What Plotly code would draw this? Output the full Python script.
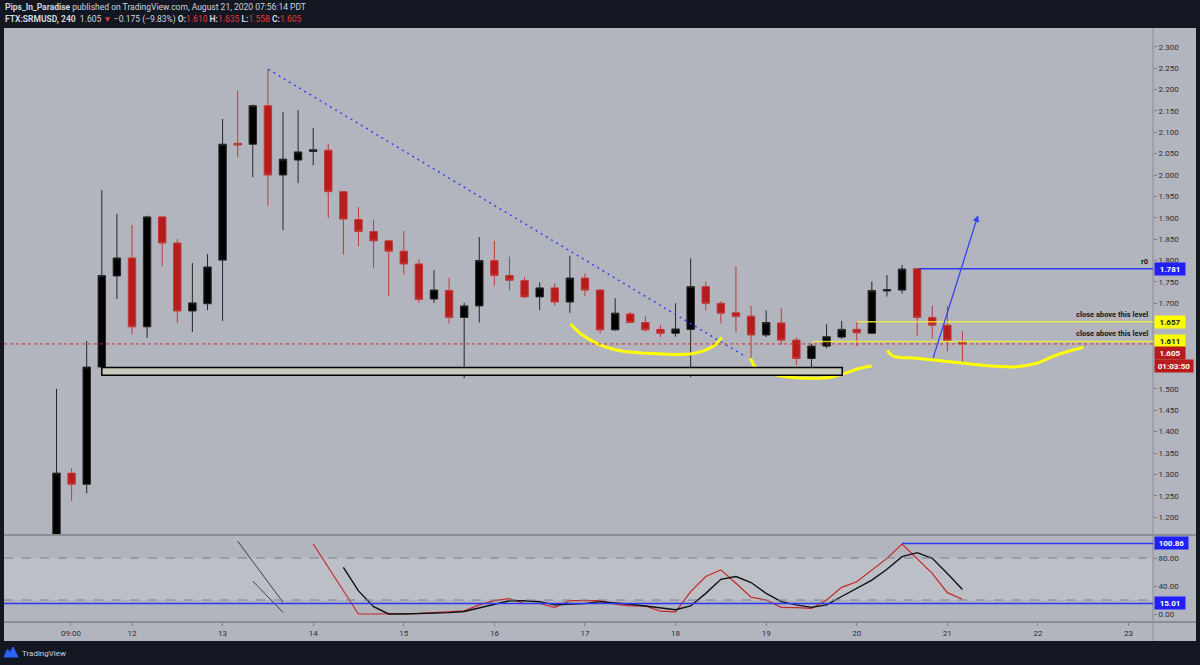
import plotly.graph_objects as go

# ---------------- data ----------------
candle_idx = list(range(61))
opens = [1.100, 1.303, 1.277, 1.551, 1.764, 1.806, 1.645, 1.902, 1.841, 1.682,
         1.699, 1.801, 2.074, 2.072, 2.162, 2.000, 2.035, 2.055, 2.058, 1.961,
         1.896, 1.868, 1.846, 1.822, 1.792, 1.710, 1.730, 1.667, 1.694, 1.800,
         1.765, 1.753, 1.715, 1.736, 1.703, 1.759, 1.731, 1.638, 1.675, 1.655,
         1.639, 1.630, 1.639, 1.739, 1.700, 1.678, 1.670, 1.626, 1.654, 1.614,
         1.571, 1.600, 1.621, 1.639, 1.630, 1.729, 1.731, 1.781, 1.667, 1.649,
         1.610]
highs = [1.500, 1.315, 1.612, 1.965, 1.909, 1.883, 1.905, 1.904, 1.850, 1.794,
         1.815, 2.131, 2.198, 2.165, 2.248, 2.147, 2.152, 2.110, 2.073, 1.962,
         1.925, 1.895, 1.848, 1.869, 1.803, 1.778, 1.760, 1.701, 1.855, 1.846,
         1.809, 1.761, 1.749, 1.747, 1.811, 1.770, 1.733, 1.712, 1.680, 1.670,
         1.649, 1.700, 1.805, 1.751, 1.705, 1.787, 1.694, 1.683, 1.688, 1.621,
         1.605, 1.651, 1.659, 1.657, 1.751, 1.766, 1.790, 1.782, 1.694, 1.694,
         1.635]
lows = [1.060, 1.238, 1.256, 1.548, 1.710, 1.628, 1.619, 1.787, 1.654, 1.633,
        1.684, 1.659, 2.042, 1.995, 1.928, 1.871, 1.981, 2.023, 1.900, 1.814,
        1.834, 1.783, 1.716, 1.767, 1.701, 1.701, 1.653, 1.525, 1.655, 1.741,
        1.730, 1.712, 1.684, 1.694, 1.678, 1.717, 1.630, 1.636, 1.654, 1.634,
        1.621, 1.622, 1.527, 1.683, 1.653, 1.631, 1.571, 1.621, 1.603, 1.556,
        1.546, 1.595, 1.617, 1.600, 1.628, 1.716, 1.723, 1.624, 1.618, 1.587,
        1.558]
closes = [1.303, 1.277, 1.551, 1.765, 1.806, 1.645, 1.902, 1.841, 1.682, 1.701,
          1.785, 2.072, 2.070, 2.162, 2.000, 2.037, 2.054, 2.059, 1.961, 1.897,
          1.868, 1.846, 1.822, 1.792, 1.709, 1.731, 1.667, 1.694, 1.800, 1.765,
          1.754, 1.715, 1.736, 1.703, 1.759, 1.731, 1.638, 1.677, 1.655, 1.638,
          1.630, 1.640, 1.739, 1.700, 1.677, 1.669, 1.626, 1.655, 1.614, 1.571,
          1.600, 1.622, 1.639, 1.631, 1.730, 1.732, 1.780, 1.667, 1.649, 1.613,
          1.605]

stoch_k_idx = list(range(17, 61))
stoch_k = [100, 67, 33, 0, 0, 0, 0.5, 1, 2, 3, 4.5, 13, 19, 22, 15, 15, 9.5, 19,
           19, 19, 14, 11.5, 11.5, 4, 3, 32, 53.5, 63, 44, 24, 20, 9.5, 9, 8, 20,
           38, 46, 63, 79.5, 100, 79.5, 58, 30.5, 21]
stoch_d_idx = list(range(19, 61))
stoch_d = [66.7, 33, 10.5, 0, 0, 0.5, 1, 2, 3.5, 8.5, 13, 19, 19, 17.6, 13, 14,
           15, 17.6, 16, 14, 11.5, 8.5, 6, 11.5, 29.5, 49.5, 53.5, 45, 29.5, 17.6,
           13, 9.5, 13, 25, 36.7, 48.5, 64, 82, 87.6, 79.5, 58, 35]

time_tick_pos = [0.96, 5, 11, 17, 23, 29, 35, 41, 47, 53, 59, 65, 71]
time_tick_text = ["09:00", "12", "13", "14", "15", "16", "17", "18", "19", "20",
                  "21", "22", "23"]
price_ticks = [1.20, 1.25, 1.30, 1.35, 1.40, 1.45, 1.50, 1.55, 1.60, 1.65, 1.70,
               1.75, 1.80, 1.85, 1.90, 1.95, 2.00, 2.05, 2.10, 2.15, 2.20, 2.25, 2.30]
# tick labels hidden behind the price-label boxes in the reference
hidden_price_ticks = [1.55, 1.60, 1.65]
osc_ticks = [0, 40, 80]

# key levels
level_r0 = 1.781
level_close1 = 1.657
level_close2 = 1.611
last_price = 1.605
osc_upper = 100.86
osc_lower = 15.01

# user drawings (data coordinates: candle index, price)
trend_x = [14.03, 45.7]
trend_y = [2.247, 1.574]
curve_a_x = [34.05, 34.67, 35.77, 36.87, 37.98, 40.19, 41.95, 42.83, 43.61, 44.05]
curve_a_y = [1.652, 1.630, 1.6065, 1.5925, 1.586, 1.5815, 1.5815, 1.589, 1.6025, 1.6205]
curve_b_x = [45.97, 46.26, 47.03, 48.36, 50.12, 51.44, 52.33, 53.21, 53.99]
curve_b_y = [1.5714, 1.5518, 1.5378, 1.5284, 1.5247, 1.5284, 1.5378, 1.5481, 1.5534]
curve_c_x = [55.02, 55.42, 56.97, 59.17, 61.82, 63.59, 64.91, 66.24, 68.0]
curve_c_y = [1.5892, 1.5768, 1.5714, 1.5635, 1.5534, 1.5518, 1.5598, 1.5792, 1.5972]
zone_x = [3.0, 52.04]
zone_y = [1.532, 1.550]
arrow_from = (58.03, 1.569)
arrow_to = (61.03, 1.906)
osc_draw1_x = [12, 15]
osc_draw1_y = [104, 16.7]
osc_draw2_x = [13, 15]
osc_draw2_y = [47, 2.4]

# ---------------- layout geometry ----------------
W, H = 1200, 665
ML, MR, MT, MB = 4, 47, 28, 43
PW, PH = W - ML - MR, H - MT - MB
X_RANGE = [-3.477, 72.62]
Y_RANGE = [1.1583, 2.3437]
Y2_RANGE = [-11.43, 112.86]
SPLIT = (H - MB - 535) / PH


def pxx(px):
    return (px - ML) / PW


def pxy(py):
    return (H - MB - py) / PH


BG = "#b2b5be"
DARK = "#131722"
AX_TXT = "#2a2e39"
RED = "#b71c1c"
BLUE = "#2b3af2"
YEL = "#ffff00"
FONT = "Roboto"

fig = go.Figure()

fig.add_trace(go.Candlestick(
    x=candle_idx, open=opens, high=highs, low=lows, close=closes,
    increasing=dict(fillcolor="#000000", line=dict(color="#262626", width=1)),
    decreasing=dict(fillcolor=RED, line=dict(color="#c03a3a", width=1)),
    whiskerwidth=0, xaxis="x", yaxis="y", hoverinfo="skip", showlegend=False))

fig.add_trace(go.Scatter(x=trend_x, y=trend_y, mode="lines", xaxis="x", yaxis="y",
                         line=dict(color="#3343f5", width=1.5, dash="2px,4px"),
                         hoverinfo="skip", showlegend=False))
for cx, cy in [(curve_a_x, curve_a_y), (curve_b_x, curve_b_y), (curve_c_x, curve_c_y)]:
    fig.add_trace(go.Scatter(x=cx, y=cy, mode="lines", xaxis="x", yaxis="y",
                             line=dict(color=YEL, width=3, shape="spline"),
                             hoverinfo="skip", showlegend=False))

fig.add_trace(go.Scatter(x=stoch_k_idx, y=stoch_k, mode="lines", xaxis="x", yaxis="y2",
                         line=dict(color="#c62828", width=1.2), hoverinfo="skip",
                         showlegend=False))
fig.add_trace(go.Scatter(x=stoch_d_idx, y=stoch_d, mode="lines", xaxis="x", yaxis="y2",
                         line=dict(color="#111111", width=1.4), hoverinfo="skip",
                         showlegend=False))
for dx, dy in [(osc_draw1_x, osc_draw1_y), (osc_draw2_x, osc_draw2_y)]:
    fig.add_trace(go.Scatter(x=dx, y=dy, mode="lines", xaxis="x", yaxis="y2",
                             line=dict(color="#222222", width=0.8), hoverinfo="skip",
                             showlegend=False))

shapes = []
# grey panel
shapes.append(dict(type="rect", xref="paper", yref="paper", x0=pxx(4), x1=pxx(1196),
                   y0=pxy(641), y1=pxy(28), fillcolor=BG, line=dict(width=0), layer="below"))
# oscillator band
shapes.append(dict(type="rect", xref="paper", yref="y2", x0=0, x1=1, y0=20, y1=80,
                   fillcolor="#bdbfc7", line=dict(width=0), layer="below"))
for lv in [20, 80]:
    shapes.append(dict(type="line", xref="paper", yref="y2", x0=0, x1=1, y0=lv, y1=lv,
                       line=dict(color="#7d8089", width=1, dash="dash")))
# pane separators and axis line
shapes.append(dict(type="line", xref="paper", yref="paper", x0=pxx(4), x1=pxx(1196),
                   y0=SPLIT, y1=SPLIT, line=dict(color="#8a8d97", width=2)))
shapes.append(dict(type="line", xref="paper", yref="paper", x0=pxx(4), x1=pxx(1196),
                   y0=0, y1=0, line=dict(color="#8a8d97", width=2)))
shapes.append(dict(type="line", xref="paper", yref="paper", x0=1, x1=1,
                   y0=pxy(641), y1=1, line=dict(color="#8a8d97", width=1)))
# oscillator levels
shapes.append(dict(type="line", xref="paper", yref="y2", x0=0, x1=1, y0=osc_lower,
                   y1=osc_lower, line=dict(color=BLUE, width=1.5)))
shapes.append(dict(type="line", xref="x", yref="y2", x0=56, x1=X_RANGE[1], y0=osc_upper,
                   y1=osc_upper, line=dict(color=BLUE, width=1.5)))
# support zone
shapes.append(dict(type="rect", xref="x", yref="y", x0=zone_x[0], x1=zone_x[1],
                   y0=zone_y[0], y1=zone_y[1], fillcolor="#c9cbbd",
                   line=dict(color="#000000", width=1.5)))
# last price dotted
shapes.append(dict(type="line", xref="paper", yref="y", x0=0, x1=1, y0=last_price,
                   y1=last_price, line=dict(color="#d32f2f", width=1, dash="dot")))
# r0 and close-above levels
shapes.append(dict(type="line", xref="x", yref="y", x0=57.1, x1=X_RANGE[1], y0=level_r0,
                   y1=level_r0, line=dict(color=BLUE, width=1.5)))
shapes.append(dict(type="line", xref="x", yref="y", x0=53.0, x1=X_RANGE[1],
                   y0=level_close1, y1=level_close1,
                   line=dict(color="rgba(240,240,60,0.85)", width=1.5)))
shapes.append(dict(type="line", xref="x", yref="y", x0=50.06, x1=X_RANGE[1],
                   y0=level_close2, y1=level_close2,
                   line=dict(color="rgba(240,240,60,0.85)", width=1.5)))

# TradingView logo (footer)
logo_pts = [(4, 657), (7.5, 649), (10, 653), (13, 647), (18, 657)]
path = "M " + " L ".join(f"{pxx(a):.5f},{pxy(b):.5f}" for a, b in logo_pts) + " Z"
shapes.append(dict(type="path", xref="paper", yref="paper", path=path,
                   fillcolor="#2962ff", line=dict(color="#2962ff", width=1)))

ann = []
TXT = "#d1d4dc"
ann.append(dict(xref="paper", yref="paper", x=pxx(3), y=pxy(7.5), xanchor="left",
                yanchor="middle", showarrow=False,
                text="<b>Pips_In_Paradise</b> published on TradingView.com, August 21, 2020 07:56:14 PDT",
                font=dict(family=FONT, size=8.5, color=TXT)))
R_ = "#e53935"
line2 = ("<b>FTX:SRMUSD, 240</b>  1.605 <span style='color:%s'>▼</span> −0.175 (−9.83%%) "
         "<b>O:</b><span style='color:%s'>1.610</span> <b>H:</b><span style='color:%s'>1.635</span> "
         "<b>L:</b><span style='color:%s'>1.558</span> <b>C:</b><span style='color:%s'>1.605</span>"
         ) % (R_, R_, R_, R_, R_)
ann.append(dict(xref="paper", yref="paper", x=pxx(3), y=pxy(19.5), xanchor="left",
                yanchor="middle", showarrow=False, text=line2,
                font=dict(family=FONT, size=8.5, color=TXT)))
ann.append(dict(xref="paper", yref="paper", x=pxx(20), y=pxy(653), xanchor="left",
                yanchor="middle", showarrow=False, text="TradingView",
                font=dict(family=FONT, size=8, color=TXT)))


def price_box(yref, yv, text, bg, fg, width=28, dy=0):
    return dict(xref="paper", yref=yref, x=1, y=yv, xanchor="left", yanchor="middle",
                xshift=1, yshift=dy, showarrow=False, text="<b>%s</b>" % text,
                bgcolor=bg, width=width, height=10, borderpad=1, align="center",
                font=dict(family=FONT, size=8, color=fg))


ann.append(price_box("y", level_r0, "1.781", "#1f1fff", "#ffffff"))
ann.append(price_box("y", level_close1, "1.657", YEL, "#131722"))
ann.append(price_box("y", level_close2, "1.611", YEL, "#131722"))
ann.append(price_box("y", last_price, "1.605", RED, "#ffffff", dy=-9))
ann.append(price_box("y", last_price, "01:03:50", RED, "#ffffff", width=36, dy=-22))
ann.append(price_box("y2", osc_upper, "100.86", "#1f1fff", "#ffffff", width=31))
ann.append(price_box("y2", osc_lower, "15.01", "#1f1fff", "#ffffff"))

for lv in [level_close1, level_close2]:
    ann.append(dict(xref="paper", yref="y", x=pxx(1150), y=lv, xanchor="right",
                    yanchor="bottom", yshift=1, showarrow=False,
                    text="<b>close above this level</b>",
                    font=dict(family=FONT, size=7.5, color="#131722")))
ann.append(dict(xref="paper", yref="y", x=pxx(1150), y=level_r0, xanchor="right",
                yanchor="bottom", yshift=1, showarrow=False, text="<b>r0</b>",
                font=dict(family=FONT, size=7.5, color="#131722")))
ann.append(dict(xref="x", yref="y", axref="x", ayref="y", x=arrow_to[0], y=arrow_to[1],
                ax=arrow_from[0], ay=arrow_from[1], showarrow=True, arrowhead=2,
                arrowsize=1, arrowwidth=1.3, arrowcolor="#3343f5", text=""))

fig.update_layout(
    width=W, height=H, margin=dict(l=ML, r=MR, t=MT, b=MB, pad=0),
    paper_bgcolor=DARK, plot_bgcolor=BG, showlegend=False, hovermode=False,
    font=dict(family=FONT, color=AX_TXT),
    xaxis=dict(range=X_RANGE, anchor="y2", tickmode="array", tickvals=time_tick_pos,
               ticktext=time_tick_text, ticks="outside", ticklen=3, tickcolor="#7d8089",
               showgrid=False, zeroline=False, showline=False,
               tickfont=dict(family=FONT, size=8, color=AX_TXT),
               rangeslider=dict(visible=False)),
    yaxis=dict(domain=[SPLIT, 1], range=Y_RANGE, side="right", anchor="x",
               tickmode="array", tickvals=price_ticks,
               ticktext=["" if any(abs(v - h) < 1e-9 for h in hidden_price_ticks)
                         else "%.3f" % v for v in price_ticks],
               ticks="outside", ticklen=3,
               tickcolor="#7d8089", showgrid=False, zeroline=False,
               tickfont=dict(family=FONT, size=8, color=AX_TXT)),
    yaxis2=dict(domain=[0, SPLIT], range=Y2_RANGE, side="right", anchor="x",
                tickmode="array", tickvals=osc_ticks,
                ticktext=["%.2f" % v for v in osc_ticks], ticks="outside", ticklen=3,
                tickcolor="#7d8089", showgrid=False, zeroline=False,
                tickfont=dict(family=FONT, size=8, color=AX_TXT)),
    shapes=shapes, annotations=ann,
)

fig.write_html("out.html", config=dict(displayModeBar=False))
